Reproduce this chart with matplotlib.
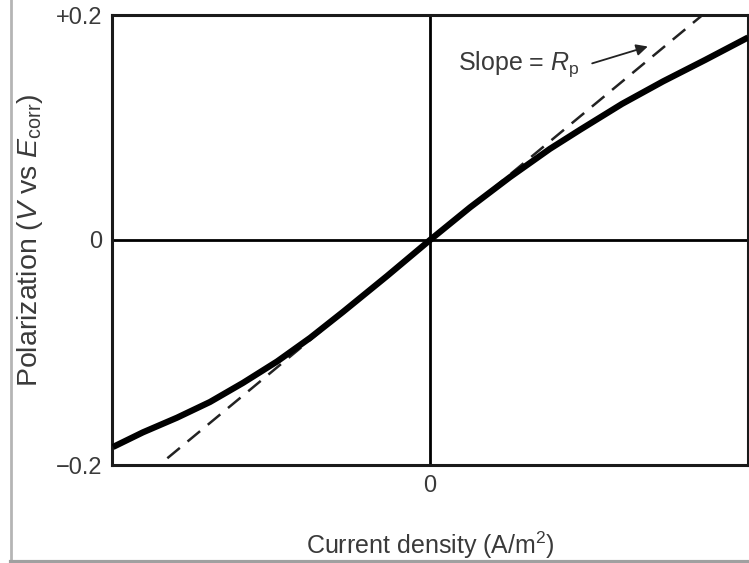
import numpy as np
import matplotlib
matplotlib.use('Agg')
import matplotlib.pyplot as plt
from matplotlib.lines import Line2D

plt.rcParams['font.family'] = ['Liberation Sans', 'DejaVu Sans']
plt.rcParams['mathtext.fontset'] = 'custom'
plt.rcParams['mathtext.rm'] = 'Liberation Sans'
plt.rcParams['mathtext.it'] = 'Liberation Sans:italic'

# Polarization curve (current density in arbitrary units)
curve_i = [-0.997, -0.903, -0.796, -0.692, -0.588, -0.481, -0.377, -0.274, -0.135, 0.0,
           0.126, 0.252, 0.377, 0.472, 0.604, 0.733, 0.865, 1.0]
curve_v = [-0.184, -0.171, -0.158, -0.144, -0.127, -0.108, -0.087, -0.064, -0.032, 0.0,
           0.029, 0.056, 0.081, 0.098, 0.121, 0.141, 0.160, 0.180]

# Tangent line at the origin (slope = Rp)
tangent_i = [-0.826, 0.857]
tangent_v = [-0.194, 0.200]

y_ticks = [-0.2, 0.0, 0.2]
y_tick_labels = ['\u22120.2', '0', '+0.2']
x_ticks = [0.0]
x_tick_labels = ['0']

text_col = '#3a3a3a'

fig = plt.figure(figsize=(7.49, 5.63), dpi=100)
ax = fig.add_axes([112 / 749, 98 / 563, 636 / 749, 450 / 563])

ax.plot(curve_i, curve_v, color='black', lw=4.5, solid_capstyle='butt',
        solid_joinstyle='round', zorder=3)
ax.plot(tangent_i, tangent_v, color='#222222', lw=1.8, dashes=(6.5, 4), zorder=2)

ax.axhline(0, color='black', lw=2.0, zorder=1)
ax.axvline(0, color='black', lw=2.0, zorder=1)

ax.set_xlim(-1, 1)
ax.set_ylim(-0.2, 0.2)
for s in ax.spines.values():
    s.set_linewidth(2.2)
    s.set_color('#1a1a1a')

ax.set_yticks(y_ticks)
ax.set_yticklabels(y_tick_labels)
ax.set_xticks(x_ticks)
ax.set_xticklabels(x_tick_labels)
ax.tick_params(length=0, labelsize=17, labelcolor=text_col, pad=7)

ax.set_xlabel('Current density (A/m$^2$)', fontsize=18, color=text_col, labelpad=24)
ax.set_ylabel(r'Polarization ($\mathit{V}$ vs $\mathit{E}_{\mathrm{corr}}$)',
              fontsize=20.5, color=text_col, labelpad=8)

ax.text(0.088, 0.156, r'Slope = $\mathit{R}_{\mathrm{p}}$', fontsize=18,
        color=text_col, va='center', ha='left')
ax.annotate('', xy=(0.685, 0.172), xytext=(0.51, 0.157),
            arrowprops=dict(arrowstyle='-|>', color='#222222', lw=1.3,
                            mutation_scale=17, shrinkA=0, shrinkB=0))

# light gray frame of the original screenshot
fig.add_artist(Line2D([11 / 749, 11 / 749], [1 / 563, 1.0], color='#b5b5b5', lw=2))
fig.add_artist(Line2D([11 / 749, 1.0], [1.5 / 563, 1.5 / 563], color='#a0a0a0', lw=3))

fig.savefig('out.png', dpi=100)
